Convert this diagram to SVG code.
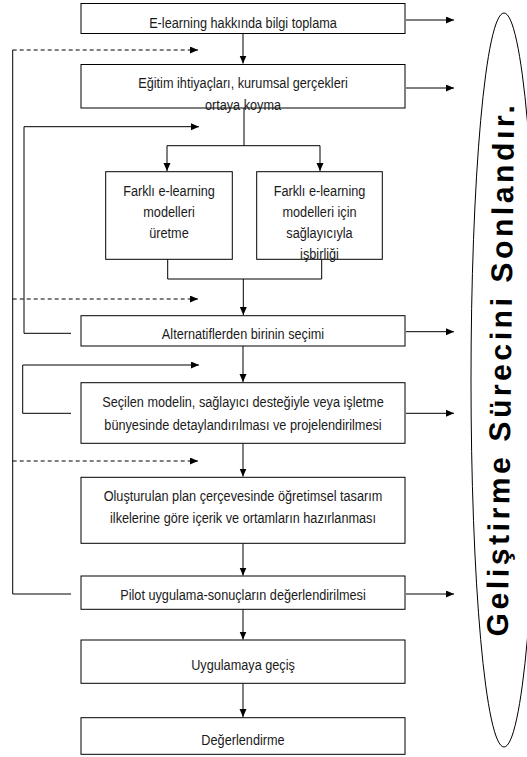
<svg xmlns="http://www.w3.org/2000/svg" width="527" height="757" viewBox="0 0 527 757">
<style>
.box{fill:#fff;stroke:#000;stroke-width:1}
.t{font-family:"Liberation Sans",Arial,sans-serif;font-size:15.5px;fill:#1a1a1a;text-anchor:middle}
.ln{fill:none;stroke:#000;stroke-width:1}
.ar{fill:none;stroke:#000;stroke-width:1;marker-end:url(#ah)}
.da{fill:none;stroke:#000;stroke-width:1;stroke-dasharray:4 3;marker-end:url(#ah)}
.big{font-family:"Liberation Sans",Arial,sans-serif;font-weight:bold;font-size:30px;letter-spacing:3.6px;fill:#000;text-anchor:middle}
</style>
<defs>
<marker id="ah" markerUnits="userSpaceOnUse" markerWidth="9" markerHeight="8" refX="8" refY="3.5" orient="auto">
<path d="M0,0 L8,3.5 L0,7 z" fill="#000"/>
</marker>
</defs>
<rect width="527" height="757" fill="#fff"/>
<g id="connectors">
<path class="ar" d="M243,33.5 V63.5"/>
<path class="ar" d="M406,20 H454"/>
<path class="ar" d="M406,88 H454"/>
<path class="ln" d="M244,108 V145.7 M167,145.7 H320"/>
<path class="ar" d="M167,145.7 V171"/>
<path class="ar" d="M320,145.7 V171"/>
<path class="ln" d="M167.7,259.3 V279 H321.7 V259.3"/>
<path class="ar" d="M243.3,279 V315"/>
<path class="ar" d="M406,331.7 H454"/>
<path class="ar" d="M243,346 V382"/>
<path class="ar" d="M406,413.3 H454"/>
<path class="ar" d="M243,443.3 V476.5"/>
<path class="ar" d="M243,543.3 V575.5"/>
<path class="ar" d="M406,594 H454"/>
<path class="ar" d="M243,609.3 V639.5"/>
<path class="ar" d="M243,683.3 V717"/>
<path class="ln" d="M71,594 H12.7 V50"/>
<path class="da" d="M12.7,50 H198"/>
<path class="da" d="M12.7,299 H198"/>
<path class="da" d="M12.7,461 H198"/>
<path class="ln" d="M71,333.3 H24 V126.7"/>
<path class="ar" d="M24,126.7 H199"/>
<path class="ln" d="M71,413.3 H22.7 V365"/>
<path class="ar" d="M22.7,365 H199"/>
</g>
<g id="n1"><rect class="box" x="81" y="3.5" width="324" height="30"/><text class="t" transform="translate(243 28) scale(0.82 1)">E-learning hakkında bilgi toplama</text></g>
<g id="n2"><rect class="box" x="81" y="64.5" width="324" height="43.5"/><text class="t" transform="translate(243 87.5) scale(0.82 1)">Eğitim ihtiyaçları, kurumsal gerçekleri</text><text class="t" transform="translate(243 110) scale(0.82 1)">ortaya koyma</text></g>
<g id="n3"><rect class="box" x="105.7" y="171.7" width="126.6" height="87.6"/><text class="t" transform="translate(169 195.5) scale(0.82 1)">Farklı e-learning</text><text class="t" transform="translate(169 216.5) scale(0.82 1)">modelleri</text><text class="t" transform="translate(169 237.5) scale(0.82 1)">üretme</text></g>
<g id="n4"><rect class="box" x="256.7" y="171.7" width="125.6" height="87.6"/><text class="t" transform="translate(319.5 195.5) scale(0.82 1)">Farklı e-learning</text><text class="t" transform="translate(319.5 216.5) scale(0.82 1)">modelleri için</text><text class="t" transform="translate(319.5 237.5) scale(0.82 1)">sağlayıcıyla</text><text class="t" transform="translate(319.5 258.5) scale(0.82 1)">işbirliği</text></g>
<g id="n5"><rect class="box" x="81" y="315.7" width="324" height="30.3"/><text class="t" transform="translate(243 339) scale(0.82 1)">Alternatiflerden birinin seçimi</text></g>
<g id="n6"><rect class="box" x="81" y="382.7" width="324" height="60.6"/><text class="t" transform="translate(243 407.3) scale(0.82 1)">Seçilen modelin, sağlayıcı desteğiyle veya işletme</text><text class="t" transform="translate(243 429.5) scale(0.82 1)">bünyesinde detaylandırılması ve projelendirilmesi</text></g>
<g id="n7"><rect class="box" x="81" y="477.3" width="324" height="66"/><text class="t" transform="translate(243 501) scale(0.82 1)">Oluşturulan plan çerçevesinde öğretimsel tasarım</text><text class="t" transform="translate(243 523) scale(0.82 1)">ilkelerine göre içerik ve ortamların hazırlanması</text></g>
<g id="n8"><rect class="box" x="81" y="576" width="324" height="33.3"/><text class="t" transform="translate(243 599.5) scale(0.82 1)">Pilot uygulama-sonuçların değerlendirilmesi</text></g>
<g id="n9"><rect class="box" x="81" y="640" width="324" height="43.3"/><text class="t" transform="translate(243 669.5) scale(0.82 1)">Uygulamaya geçiş</text></g>
<g id="n10"><rect class="box" x="81" y="717.7" width="324" height="36.6"/><text class="t" transform="translate(243 745) scale(0.82 1)">Değerlendirme</text></g>
<g id="ellipse"><ellipse cx="504" cy="380" rx="33" ry="367" fill="none" stroke="#000" stroke-width="1"/><text class="big" x="511" y="369" transform="rotate(-89.3 511 369)">Geliştirme Sürecini Sonlandır.</text></g>
</svg>
